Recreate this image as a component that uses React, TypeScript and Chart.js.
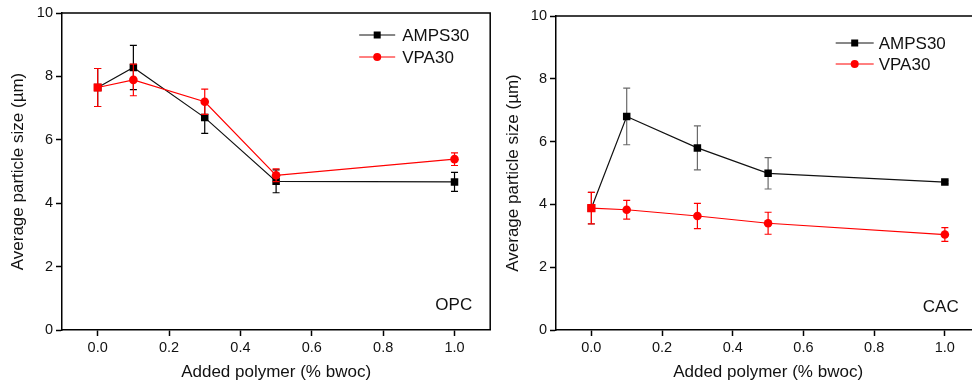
import React, { useEffect, useRef } from 'react';
import { Chart, registerables } from 'chart.js';

Chart.register(...registerables);

// ---- data ----
const xValues = [0, 0.1, 0.3, 0.5, 1.0];
const xTickValues = [0, 0.2, 0.4, 0.6, 0.8, 1.0];
const yTickValues = [0, 2, 4, 6, 8, 10];
const seriesNames = ['AMPS30', 'VPA30'];
const panelLabels = ['OPC', 'CAC'];
const xTitle = 'Added polymer (% bwoc)';
const yTitle = 'Average particle size (µm)';

const opcAmps = [7.65, 8.28, 6.7, 4.69, 4.67];
const opcAmpsErr = [0.6, 0.7, 0.5, 0.36, 0.3];
const opcVpa = [7.65, 7.89, 7.2, 4.88, 5.39];
const opcVpaErr = [0.6, 0.5, 0.4, 0.2, 0.2];

const cacAmps = [3.88, 6.8, 5.8, 4.99, 4.71];
const cacAmpsErr = [0.5, 0.9, 0.7, 0.5, 0.05];
const cacVpa = [3.88, 3.83, 3.63, 3.4, 3.04];
const cacVpaErr = [0.5, 0.3, 0.4, 0.35, 0.22];

const FONT = '"Liberation Sans", Arial, Helvetica, sans-serif';

const panels = [
  {
    left: 0, width: 496, padRight: 3, padTop: 13, yAxisWidth: 62,
    amps: opcAmps, ampsErr: opcAmpsErr, vpa: opcVpa, vpaErr: opcVpaErr,
    ampsErrColor: '#000', label: panelLabels[0],
    legend: { lineStart: -131, lineEnd: -95, marker: -113, text: -88, y: [22, 44] },
    labelPos: { dx: -18, dy: -25 },
    yTitlePad: 8,
  },
  {
    left: 496, width: 490, padRight: 3.5, padTop: 16, yAxisWidth: 60,
    amps: cacAmps, ampsErr: cacAmpsErr, vpa: cacVpa, vpaErr: cacVpaErr,
    ampsErrColor: '#6a6a6a', label: panelLabels[1],
    legend: { lineStart: -144.5, lineEnd: -106.5, marker: -125.5, text: -101.5, y: [27, 48] },
    labelPos: { dx: -21.5, dy: -23 },
    yTitlePad: 7,
  },
];

const errorBarPlugin = {
  id: 'errorBars',
  beforeDatasetDraw(chart: any, args: any) {
    const ds = chart.data.datasets[args.index];
    if (!ds.errors) return;
    const meta = chart.getDatasetMeta(args.index);
    const yScale = chart.scales.y;
    const ctx = chart.ctx;
    ctx.save();
    ctx.strokeStyle = ds.errorColor;
    ctx.lineWidth = 1.2;
    meta.data.forEach((pt: any, j: number) => {
      const v = ds.data[j].y;
      const e = ds.errors[j];
      const yt = yScale.getPixelForValue(v + e);
      const yb = yScale.getPixelForValue(v - e);
      const x = pt.x;
      ctx.beginPath();
      ctx.moveTo(x, yt);
      ctx.lineTo(x, yb);
      ctx.moveTo(x - 3.5, yt);
      ctx.lineTo(x + 3.5, yt);
      ctx.moveTo(x - 3.5, yb);
      ctx.lineTo(x + 3.5, yb);
      ctx.stroke();
    });
    ctx.restore();
  },
};

const overlayPlugin = {
  id: 'overlay',
  afterDraw(chart: any, _args: any, opts: any) {
    const { ctx, chartArea } = chart;
    ctx.save();
    ctx.strokeStyle = '#000';
    ctx.lineWidth = 1.5;
    ctx.beginPath();
    ctx.moveTo(chartArea.left, chartArea.top);
    ctx.lineTo(chartArea.right, chartArea.top);
    ctx.lineTo(chartArea.right, chartArea.bottom);
    ctx.stroke();

    const lg = opts.legend;
    ctx.font = `17px ${FONT}`;
    ctx.textBaseline = 'middle';
    ctx.textAlign = 'left';
    chart.data.datasets.forEach((ds: any, i: number) => {
      const y = chartArea.top + lg.y[i];
      ctx.strokeStyle = ds.borderColor;
      ctx.lineWidth = 1;
      ctx.beginPath();
      ctx.moveTo(chartArea.right + lg.lineStart, y);
      ctx.lineTo(chartArea.right + lg.lineEnd, y);
      ctx.stroke();
      const mx = chartArea.right + lg.marker;
      ctx.fillStyle = ds.backgroundColor;
      if (i === 0) {
        ctx.fillRect(mx - 3.5, y - 3.5, 7, 7);
      } else {
        ctx.beginPath();
        ctx.arc(mx, y, 4, 0, Math.PI * 2);
        ctx.fill();
      }
      ctx.fillStyle = '#111';
      ctx.fillText(ds.label, chartArea.right + lg.text, y + 1);
    });

    ctx.textAlign = 'right';
    ctx.fillStyle = '#111';
    ctx.fillText(opts.label, chartArea.right + opts.labelPos.dx, chartArea.bottom + opts.labelPos.dy);
    ctx.restore();
  },
};

function Panel({ cfg }: { cfg: any }) {
  const ref = useRef<HTMLCanvasElement | null>(null);
  useEffect(() => {
    if (!ref.current) return;
    const chart = new Chart(ref.current, {
      type: 'line',
      data: {
        datasets: [
          {
            label: seriesNames[0],
            data: xValues.map((x, i) => ({ x, y: cfg.amps[i] })),
            borderColor: '#111',
            backgroundColor: '#000',
            borderWidth: 1.2,
            pointStyle: 'rect',
            pointRadius: 5.3,
            pointBorderWidth: 0,
            pointHoverRadius: 5.3,
            order: 1,
            errors: cfg.ampsErr,
            errorColor: cfg.ampsErrColor,
          } as any,
          {
            label: seriesNames[1],
            data: xValues.map((x, i) => ({ x, y: cfg.vpa[i] })),
            borderColor: '#f00',
            backgroundColor: '#f00',
            borderWidth: 1.2,
            pointStyle: ['rect', 'circle', 'circle', 'circle', 'circle'],
            pointRadius: [5.8, 4.3, 4.3, 4.3, 4.3],
            pointBorderWidth: 0,
            order: 0,
            errors: cfg.vpaErr,
            errorColor: '#f00',
          } as any,
        ],
      },
      options: {
        animation: false,
        responsive: false,
        events: [],
        layout: { padding: { left: 0, right: cfg.padRight, top: cfg.padTop, bottom: 0 } },
        plugins: {
          legend: { display: false },
          tooltip: { enabled: false },
          overlay: { legend: cfg.legend, label: cfg.label, labelPos: cfg.labelPos },
        } as any,
        scales: {
          x: {
            type: 'linear',
            min: -0.1,
            max: 1.1,
            afterBuildTicks: (s: any) => {
              s.ticks = xTickValues.map((v) => ({ value: v }));
            },
            afterFit: (s: any) => {
              s.height = 58;
            },
            border: { color: '#000', width: 1.5 },
            grid: { drawOnChartArea: false, drawTicks: true, tickLength: 6, tickColor: '#000', tickWidth: 1.5 },
            ticks: {
              padding: 3,
              color: '#111',
              font: { family: FONT, size: 14.5 },
              callback: (v: any) => Number(v).toFixed(1),
              maxRotation: 0,
              autoSkip: false,
            },
            title: {
              display: true,
              text: xTitle,
              color: '#111',
              font: { family: FONT, size: 17 },
              padding: { top: 0, bottom: 5 },
            },
          },
          y: {
            type: 'linear',
            min: 0,
            max: 10,
            afterBuildTicks: (s: any) => {
              s.ticks = yTickValues.map((v) => ({ value: v }));
            },
            afterFit: (s: any) => {
              s.width = cfg.yAxisWidth;
            },
            border: { color: '#000', width: 1.5 },
            grid: { drawOnChartArea: false, drawTicks: true, tickLength: 6, tickColor: '#000', tickWidth: 1.5 },
            ticks: {
              padding: 3,
              color: '#111',
              font: { family: FONT, size: 14.5 },
              callback: (v: any) => String(v),
            },
            title: {
              display: true,
              text: yTitle,
              color: '#111',
              font: { family: FONT, size: 17 },
              padding: { top: cfg.yTitlePad, bottom: 0 },
            },
          },
        },
      },
      plugins: [errorBarPlugin, overlayPlugin],
    } as any);
    return () => chart.destroy();
  }, [cfg]);
  return (
    <canvas
      ref={ref}
      width={cfg.width}
      height={388}
      style={{ position: 'absolute', left: cfg.left, top: 0, width: cfg.width, height: 388, display: 'block' }}
    />
  );
}

export default function App() {
  return (
    <div
      style={{
        position: 'fixed',
        left: 0,
        top: 0,
        width: 972,
        height: 388,
        overflow: 'hidden',
        background: '#fff',
      }}
    >
      {panels.map((p, i) => (
        <Panel key={i} cfg={p} />
      ))}
    </div>
  );
}
